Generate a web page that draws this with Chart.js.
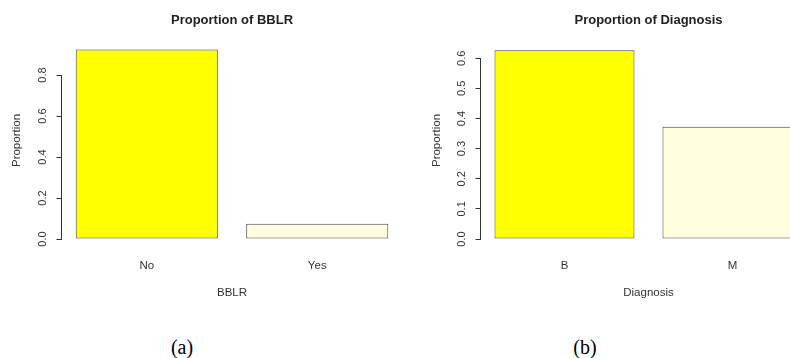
<!DOCTYPE html>
<html>
<head>
<meta charset="utf-8">
<script src="https://cdn.jsdelivr.net/npm/chart.js@4.4.1/dist/chart.umd.min.js"></script>
<style>
  html, body { margin: 0; padding: 0; background: #fff; overflow: hidden; }
  #wrap { position: relative; width: 790px; height: 358px; overflow: hidden; }
  canvas { position: absolute; top: 0; }
  #cvA { left: 0; }
  #cvB { left: 400px; }
  .cap { position: absolute; width: 60px; text-align: center; font: 20px "Liberation Serif", serif; color: #000; line-height: 20px; top: 337px; }
</style>
</head>
<body>
<div id="wrap">
  <canvas id="cvA" width="410" height="310"></canvas>
  <canvas id="cvB" width="440" height="310"></canvas>
  <div class="cap" style="left:152px">(a)</div>
  <div class="cap" style="left:555px">(b)</div>
</div>
<script>
const bblrLabels = ['No', 'Yes'];
const bblrProp = [0.925, 0.075];
const bblrTicks = [0, 0.2, 0.4, 0.6, 0.8];

const diagLabels = ['B', 'M'];
const diagProp = [0.627, 0.373];
const diagTicks = [0, 0.1, 0.2, 0.3, 0.4, 0.5, 0.6];

const barColors = ['#FFFF00', '#FFFFE0'];
const INK = '#333';
const SANS = '"Liberation Sans", Arial, sans-serif';

// R-style y axis: line only spans first..last tick
const axisLine = {
  id: 'axisLine',
  afterDraw(chart) {
    const y = chart.scales.y;
    const t = y.ticks;
    if (!t.length) return;
    const x = Math.round(y.right - 0.5) + 0.5;
    const ctx = chart.ctx;
    ctx.save();
    ctx.strokeStyle = INK;
    ctx.lineWidth = 1;
    ctx.beginPath();
    ctx.moveTo(x, Math.round(y.getPixelForValue(t[0].value)) + 0.5);
    ctx.lineTo(x, Math.round(y.getPixelForValue(t[t.length - 1].value)) + 0.5);
    ctx.stroke();
    ctx.restore();
  }
};

function proportionChart(id, labels, values, ticks, yMax, titleText, xTitle, o) {
  return new Chart(document.getElementById(id), {
    type: 'bar',
    data: {
      labels,
      datasets: [{
        data: values,
        backgroundColor: barColors,
        borderColor: '#444',
        borderWidth: 1,
        borderSkipped: false,
        barPercentage: 1 / 1.2,
        categoryPercentage: 1,
      }],
    },
    options: {
      responsive: false,
      animation: false,
      devicePixelRatio: 1,
      layout: { padding: { left: 0, right: o.padRight, top: 0, bottom: 0 } },
      plugins: {
        legend: { display: false },
        tooltip: { enabled: false },
        title: {
          display: true,
          text: titleText,
          fullSize: false,
          color: '#222',
          font: { family: SANS, size: 13, weight: 'bold' },
          padding: { top: 12.2, bottom: 14.2 },
        },
      },
      scales: {
        x: {
          grid: { display: false },
          border: { display: false },
          ticks: { color: INK, padding: 12, font: { family: SANS, size: 11.5 } },
          title: {
            display: true,
            text: xTitle,
            color: INK,
            font: { family: SANS, size: 11.5 },
            padding: { top: 0, bottom: 10 },
          },
          afterFit: (s) => { s.height = 71; },
        },
        y: {
          min: 0,
          max: yMax,
          border: { display: false },
          grid: { display: true, drawOnChartArea: false, drawTicks: true, tickLength: 5, color: INK },
          ticks: {
            color: INK,
            minRotation: 90,
            maxRotation: 90,
            crossAlign: 'center',
            padding: 5.5,
            font: { family: SANS, size: 11 },
            callback: (v) => Number(v).toFixed(1),
          },
          title: {
            display: true,
            text: 'Proportion',
            color: INK,
            font: { family: SANS, size: 11.5 },
            padding: { top: o.yTitlePad, bottom: 0 },
          },
          afterBuildTicks: (s) => { s.ticks = ticks.map(v => ({ value: v })); },
          afterFit: (s) => { s.width = o.yWidth; },
        },
      },
    },
    plugins: [axisLine],
  });
}

proportionChart('cvA', bblrLabels, bblrProp, bblrTicks, 0.961,
  'Proportion of BBLR', 'BBLR', { yWidth: 61.5, padRight: 7.5, yTitlePad: 9.8 });
proportionChart('cvB', diagLabels, diagProp, diagTicks, 0.654,
  'Proportion of Diagnosis', 'Diagnosis', { yWidth: 80.5, padRight: 23.5, yTitlePad: 30 });
</script>
</body>
</html>
